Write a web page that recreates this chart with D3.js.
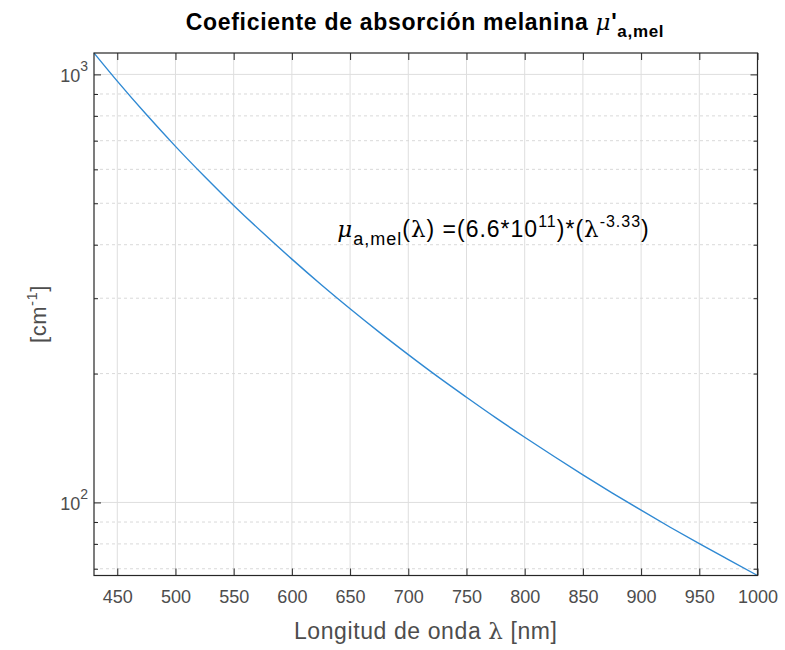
<!DOCTYPE html>
<html>
<head>
<meta charset="utf-8">
<script src="https://cdn.jsdelivr.net/npm/d3@7/dist/d3.min.js"></script>
<style>
  body { margin: 0; background: #fff; }
  svg { display: block; font-family: "Liberation Sans", Arial, Helvetica, sans-serif; }
</style>
</head>
<body>
<svg id="chart" width="785" height="650"></svg>
<script>
// Wavelength samples [nm] and melanin absorption coefficient [cm^-1]
const wavelength = [430, 450, 475, 500, 525, 550, 575, 600, 625, 650, 675, 700, 725,
                    750, 775, 800, 825, 850, 875, 900, 925, 950, 975, 1000];
const muAmel = [1122, 964.5, 805.6, 679.0, 577.3, 494.3, 426.5, 370.2, 323.0, 283.5,
                250.0, 221.5, 197.0, 176.1, 157.8, 142.0, 128.2, 116.0, 105.3, 95.9,
                87.5, 80.1, 73.5, 67.5];

const xTicks = [450, 500, 550, 600, 650, 700, 750, 800, 850, 900, 950, 1000];
const yMajorTicks = [100, 1000];
const yMinorTicks = [70, 80, 90, 200, 300, 400, 500, 600, 700, 800, 900];

const svg = d3.select("#chart");
const M = { left: 94, top: 53, right: 27.5, bottom: 74.5 };
const W = 785 - M.left - M.right;
const H = 650 - M.top - M.bottom;

const x = d3.scaleLinear().domain([430, 1000]).range([0, W]);
const y = d3.scaleLog().domain(d3.extent(muAmel)).range([H, 0]);

const g = svg.append("g").attr("transform", `translate(${M.left},${M.top})`);

const axisColor = "#262626";
const labelColor = "#4d4d4d";
const greek = "'DejaVu Serif', serif";

// grid: solid major lines, dashed minor lines on the log axis
g.append("g").selectAll("line").data(xTicks).join("line")
  .attr("x1", d => x(d)).attr("x2", d => x(d))
  .attr("y1", 0).attr("y2", H)
  .attr("stroke", "#dedede").attr("stroke-width", 1);
g.append("g").selectAll("line").data(yMajorTicks).join("line")
  .attr("x1", 0).attr("x2", W)
  .attr("y1", d => y(d)).attr("y2", d => y(d))
  .attr("stroke", "#dedede").attr("stroke-width", 1);
g.append("g").selectAll("line").data(yMinorTicks).join("line")
  .attr("x1", 0).attr("x2", W)
  .attr("y1", d => y(d)).attr("y2", d => y(d))
  .attr("stroke", "#d9d9d9").attr("stroke-width", 1)
  .attr("stroke-dasharray", "3,3");

// curve
const line = d3.line()
  .x((d, i) => x(wavelength[i]))
  .y(d => y(d))
  .curve(d3.curveMonotoneX);
g.append("path").datum(muAmel)
  .attr("d", line)
  .attr("fill", "none")
  .attr("stroke", "#2f89d3")
  .attr("stroke-width", 1.4);

// axes with inward ticks on all four sides
function styleAxis(sel) {
  sel.select(".domain").remove();
  sel.selectAll(".tick line").attr("stroke", axisColor);
  sel.selectAll(".tick text").attr("fill", labelColor);
}

const xBottom = g.append("g").attr("transform", `translate(0,${H})`)
  .call(d3.axisBottom(x).tickValues(xTicks).tickSize(-7).tickPadding(15).tickFormat(d3.format("d")))
  .call(styleAxis);
xBottom.selectAll(".tick text").attr("font-size", 18);

g.append("g")
  .call(d3.axisTop(x).tickValues(xTicks).tickSize(-7).tickFormat(""))
  .call(styleAxis);

const yLeft = g.append("g")
  .call(d3.axisLeft(y).tickValues(yMajorTicks).tickSize(-7).tickPadding(6).tickFormat(""))
  .call(styleAxis);
yLeft.selectAll(".tick text").each(function(d) {
  const t = d3.select(this).attr("font-size", 18).attr("dy", "0.38em");
  t.append("tspan").text("10");
  t.append("tspan").attr("font-size", 14).attr("dy", "-0.75em").text(Math.round(Math.log10(d)));
});

g.append("g")
  .call(d3.axisLeft(y).tickValues(yMinorTicks).tickSize(-4).tickFormat(""))
  .call(styleAxis);
g.append("g").attr("transform", `translate(${W},0)`)
  .call(d3.axisRight(y).tickValues(yMajorTicks).tickSize(-7).tickFormat(""))
  .call(styleAxis);
g.append("g").attr("transform", `translate(${W},0)`)
  .call(d3.axisRight(y).tickValues(yMinorTicks).tickSize(-4).tickFormat(""))
  .call(styleAxis);

// frame
g.append("rect").attr("x", 0).attr("y", 0).attr("width", W).attr("height", H)
  .attr("fill", "none").attr("stroke", axisColor).attr("stroke-width", 1.2);

// title
const title = svg.append("text")
  .attr("x", 425).attr("y", 30)
  .attr("text-anchor", "middle")
  .attr("font-size", 23).attr("font-weight", "bold").attr("fill", "#000")
  .attr("letter-spacing", 0.7);
title.append("tspan").text("Coeficiente de absorción melanina ");
title.append("tspan").attr("font-style", "italic").attr("font-weight", "normal")
  .attr("font-family", greek).text("μ");
title.append("tspan").text("'");
title.append("tspan").attr("font-size", 17).attr("dy", 7).text("a,mel");

// formula annotation
const ann = g.append("text")
  .attr("x", x(639)).attr("y", y(430)).attr("dy", 6)
  .attr("font-size", 23).attr("fill", "#000")
  .attr("letter-spacing", 1);
ann.append("tspan").attr("font-style", "italic").attr("font-family", greek).text("μ");
ann.append("tspan").attr("font-size", 18).attr("dy", 8).text("a,mel");
ann.append("tspan").attr("dy", -8).text("(");
ann.append("tspan").attr("font-family", greek).text("λ");
ann.append("tspan").text(") =(6.6*10");
ann.append("tspan").attr("font-size", 16).attr("dy", -10).text("11");
ann.append("tspan").attr("dy", 10).text(")*(");
ann.append("tspan").attr("font-family", greek).text("λ");
ann.append("tspan").attr("font-size", 16).attr("dy", -10).text("-3.33");
ann.append("tspan").attr("dy", 10).text(")");

// axis labels
const xl = svg.append("text")
  .attr("x", M.left + W / 2).attr("y", 639)
  .attr("text-anchor", "middle")
  .attr("font-size", 23).attr("fill", labelColor)
  .attr("letter-spacing", 0.6);
xl.append("tspan").text("Longitud de onda ");
xl.append("tspan").attr("font-family", greek).text("λ");
xl.append("tspan").text(" [nm]");

const yl = svg.append("text")
  .attr("transform", `translate(46,314) rotate(-90)`)
  .attr("text-anchor", "middle")
  .attr("font-size", 22).attr("fill", labelColor)
  .attr("letter-spacing", 0.5);
yl.append("tspan").text("[cm");
yl.append("tspan").attr("font-size", 15).attr("dy", -9).text("-1");
yl.append("tspan").attr("dy", 9).text("]");
</script>
</body>
</html>
